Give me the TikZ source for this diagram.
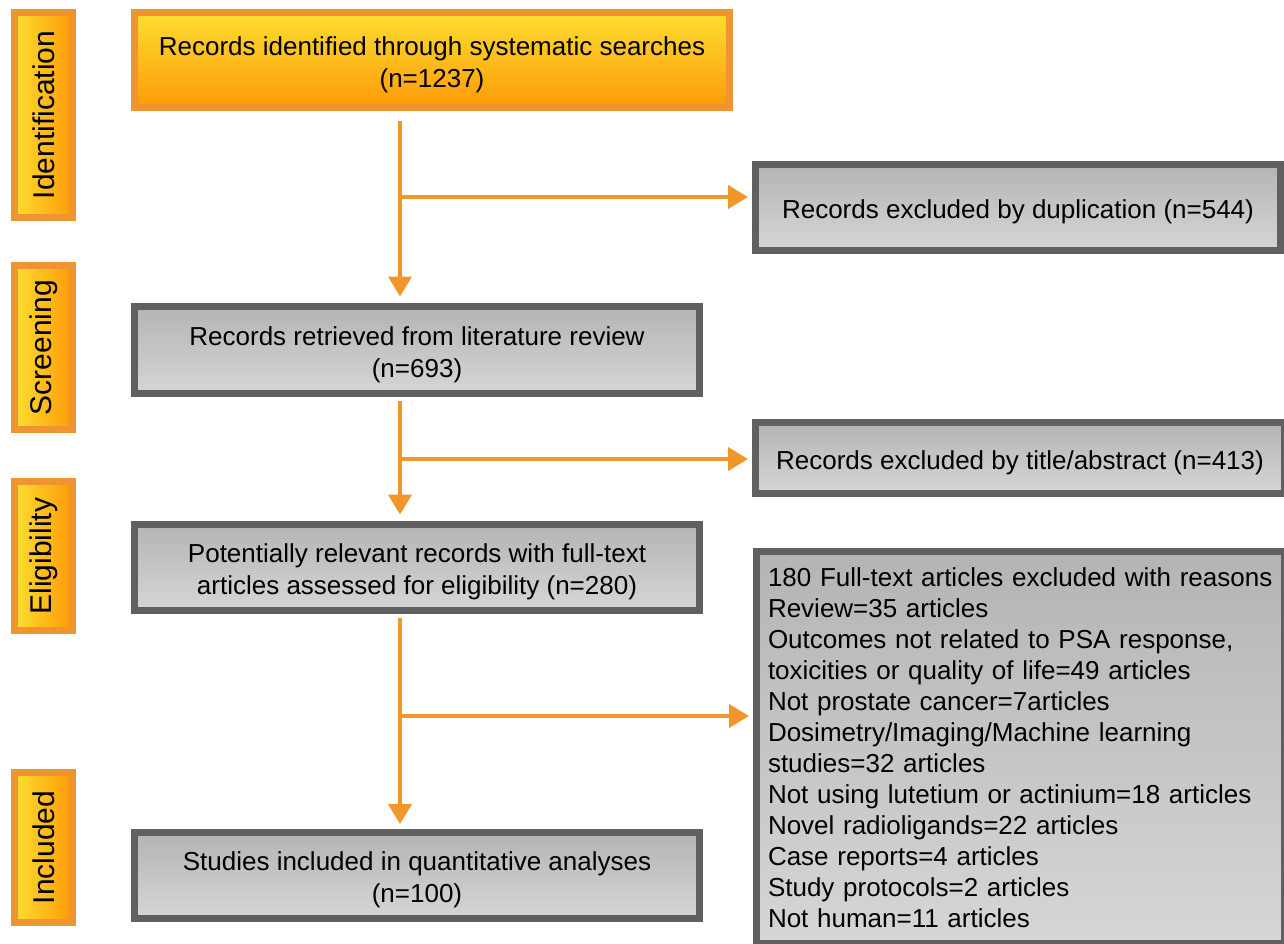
\documentclass[tikz,border=0pt]{standalone}
\usepackage{fontspec}
\setmainfont{Liberation Sans}
\usepackage{xcolor}
\usetikzlibrary{arrows.meta, positioning, calc}

\definecolor{stageline}{RGB}{238,148,48}
\definecolor{stageyel}{RGB}{252,222,48}
\definecolor{stageorg}{RGB}{253,154,8}
\definecolor{flowline}{RGB}{240,150,42}
\definecolor{grayline}{RGB}{96,96,96}
\definecolor{graytop}{RGB}{180,180,180}
\definecolor{graybot}{RGB}{214,214,214}

% taller first line, pushes centred text a little down
\newcommand{\lineup}{\rule{0pt}{28pt}}

\begin{document}
\begin{tikzpicture}[
        x=1pt, y=-1pt,
        >={Triangle[width=23pt, length=20pt]},
        every node/.style={font=\fontsize{26}{32}\selectfont, inner sep=0pt},
        stage/.style={draw=stageline, line width=7pt, left color=stageyel, right color=stageorg, rotate=90, minimum height=58pt, font=\fontsize{30}{36}\selectfont},
        hit/.style={draw=stageline, line width=7pt, top color=stageyel, bottom color=stageorg, minimum width=595pt, minimum height=95pt, align=center},
        rec/.style={draw=grayline, line width=7pt, top color=graytop, bottom color=graybot, minimum width=565pt, minimum height=86pt, align=center},
        excl/.style={rec, minimum width=525pt},
        flow/.style={draw=flowline, line width=4pt},
    ]

    \path[use as bounding box, fill=white] (0,0) rectangle (1284,943);

    % ── Stage labels (left column) ──
    \node[stage, minimum width=205pt] (idn) at (43.5,115) {Identification};
    \node[stage, minimum width=164pt] (scr) at (43.5,347.5) {Screening};
    \node[stage, minimum width=149pt] (elg) at (43.5,556) {Eligibility};
    \node[stage, minimum width=150pt] (inc) at (43.5,847.5) {Included};

    % ── Main flow ──
    \node[hit] (recid) at (432,60) {\lineup Records identified through systematic searches\\(n=1237)};
    \node[rec, minimum height=87pt] (recret) at (417,350) {\lineup Records retrieved from literature review\\(n=693)};
    \node[rec] (recrel) at (417,567.5) {\lineup Potentially relevant records with full-text\\articles assessed for eligibility (n=280)};
    \node[rec] (studinc) at (417,875.5) {\lineup Studies included in quantitative analyses\\(n=100)};

    % ── Exclusions (right column) ──
    \node[excl] (exdup) at (1018,207.5) {\lineup Records excluded by duplication (n=544)};
    \node[excl, minimum width=529pt, minimum height=71pt] (extit) at (1020,458) {\lineup Records excluded by title/abstract (n=413)};
    \node[excl, minimum height=392pt, text width=505pt, inner xsep=11.5pt, align=left,
          font=\fontsize{26}{31}\selectfont] (exfull) at (1020.5,747.5)
        {180 Full-text articles excluded with reasons\\
         Review=35 articles\\
         Outcomes not related to PSA response,\\
         toxicities or quality of life=49 articles\\
         Not prostate cancer=7articles\\
         Dosimetry/Imaging/Machine learning\\
         studies=32 articles\\
         Not using lutetium or actinium=18 articles\\
         Novel radioligands=22 articles\\
         Case reports=4 articles\\
         Study protocols=2 articles\\
         Not human=11 articles};

    % ── Arrows ──
    \coordinate (trunk) at (400,0);
    \coordinate (fork1) at (400,197);
    \coordinate (fork2) at (400,459);
    \coordinate (fork3) at (400,716);

    \draw[flow, ->, shorten <=9.5pt, shorten >=6.5pt] (recid.south -| trunk) -- (recret.north -| trunk);
    \draw[flow, ->, shorten <=3.5pt, shorten >=6.5pt] (recret.south -| trunk) -- (recrel.north -| trunk);
    \draw[flow, ->, shorten <=3.5pt, shorten >=5pt] (recrel.south -| trunk) -- (studinc.north -| trunk);

    \draw[flow, ->, shorten >=4pt] (fork1) -- (fork1 -| exdup.west);
    \draw[flow, ->, shorten >=4pt] (fork2) -- (fork2 -| extit.west);
    \draw[flow, ->, shorten >=4pt] (fork3) -- (fork3 -| exfull.west);

\end{tikzpicture}
\end{document}
